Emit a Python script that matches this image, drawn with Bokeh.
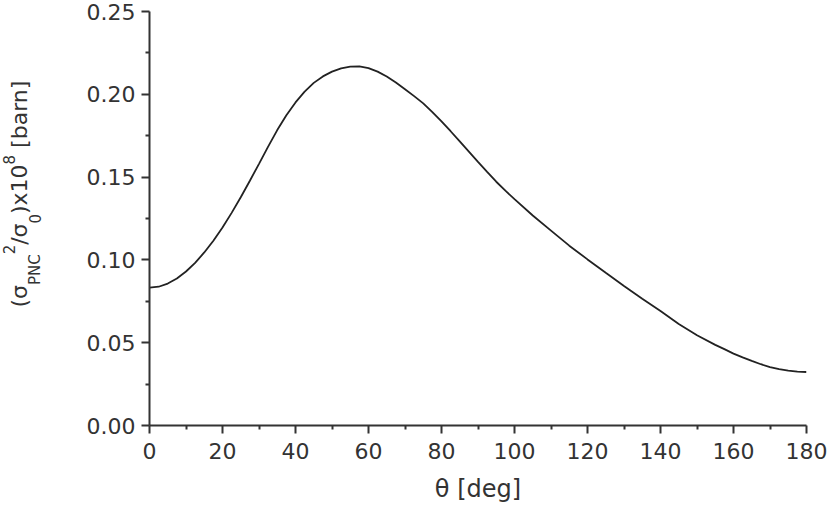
from bokeh.plotting import figure
from bokeh.models import FixedTicker, NumeralTickFormatter, Label, Range1d
from bokeh.layouts import row
from bokeh.embed import file_html
from bokeh.resources import INLINE

# ---- data ----
theta_deg = [0, 2.5, 5, 7.5, 10, 12.5, 15, 17.5, 20, 22.5, 25, 27.5, 30, 32.5, 35, 37.5,
             40, 42.5, 45, 47.5, 50, 52.5, 55, 57.5, 60, 62.5, 65, 67.5, 70, 72.5, 75,
             77.5, 80, 82.5, 85, 87.5, 90, 92.5, 95, 97.5, 100,
             105, 110, 115, 120, 125, 130, 135, 140, 145, 150,
             155, 157.5, 160, 162.5, 165, 167.5, 170, 172.5, 175, 177.5, 180]
sigma_ratio = [0.0832, 0.0838, 0.0857, 0.0888, 0.0930, 0.0982, 0.1045, 0.1116, 0.1196,
               0.1284, 0.1378, 0.1478, 0.1580, 0.1684, 0.1784, 0.1874, 0.1951, 0.2016,
               0.2069, 0.2108, 0.2137, 0.2157, 0.2167, 0.2168, 0.2158, 0.2137, 0.2107,
               0.2071, 0.2031, 0.1989, 0.1945,
               0.1892, 0.1836, 0.1777, 0.1716, 0.1654, 0.1592, 0.1531, 0.1472, 0.1418,
               0.1367,
               0.1268, 0.1177, 0.1086, 0.1003, 0.0922, 0.0843, 0.0766, 0.0692, 0.0613,
               0.0545,
               0.0487, 0.0461, 0.0434, 0.0411, 0.0390, 0.0370, 0.0353, 0.0340, 0.0331,
               0.0325, 0.0323]

x_ticks = [0, 20, 40, 60, 80, 100, 120, 140, 160, 180]
x_minor = [10, 30, 50, 70, 90, 110, 130, 150, 170]
y_ticks = [0.00, 0.05, 0.10, 0.15, 0.20, 0.25]
y_minor = [0.025, 0.075, 0.125, 0.175, 0.225]

x_title = "\u03b8 [deg]"
# y title pieces: (text, role) — drawn rotated, one after the other (bottom to top)
y_title_parts = [("(\u03c3", "main"), ("PNC", "sub"), ("2", "sup"), ("/\u03c3", "main"),
                 ("0", "sub"), (")x10", "main"), ("8", "sup"), ("[barn]", "main")]
# start (lower end) of each piece, px from the top of the page
y_title_pos = [307, 284.6, 253.8, 244.3, 223.0, 213.5, 163.9, 147.4]

TXT = "#333333"
FONT = "DejaVu Sans"
H = 507
W_LEFT = 50
FRAME_TOP, FRAME_BOTTOM = 11, 425   # main frame edges (page px); the row aligns frames

# ---- narrow strip holding the composed y-axis title ----
yt = figure(width=W_LEFT, height=H, output_backend="svg", toolbar_location=None,
            x_range=Range1d(0, W_LEFT), y_range=Range1d(FRAME_BOTTOM, FRAME_TOP),
            x_axis_type=None, y_axis_type=None, min_border=0)
yt.outline_line_color = None
yt.background_fill_color = "white"
yt.border_fill_color = "white"

base_x = {"main": 18.5, "sub": 34, "sup": 8}
size = {"main": "22px", "sub": "15px", "sup": "15px"}
for (txt, role), pos in zip(y_title_parts, y_title_pos):
    yt.add_layout(Label(x=base_x[role], y=pos, text=txt, angle=90, angle_units="deg",
                        text_font=FONT, text_font_size=size[role], text_color=TXT,
                        text_align="left", text_baseline="alphabetic"))

# ---- main chart ----
p = figure(width=830 - W_LEFT, height=H, output_backend="svg", toolbar_location=None,
           x_range=Range1d(0, 180), y_range=Range1d(0, 0.25),
           min_border_left=149 - W_LEFT, min_border_right=24, min_border_top=FRAME_TOP,
           min_border_bottom=H - FRAME_BOTTOM)

p.line(theta_deg, sigma_ratio, line_color="#222222", line_width=1.8)

p.xgrid.visible = False
p.ygrid.visible = False
p.outline_line_color = None
p.background_fill_color = "white"
p.border_fill_color = "white"

p.xaxis.ticker = FixedTicker(ticks=x_ticks, minor_ticks=x_minor)
p.yaxis.ticker = FixedTicker(ticks=y_ticks, minor_ticks=y_minor)
p.yaxis.formatter = NumeralTickFormatter(format="0.00")

for ax in (p.xaxis[0], p.yaxis[0]):
    ax.axis_line_width = 2
    ax.axis_line_color = TXT
    ax.major_tick_line_width = 2
    ax.minor_tick_line_width = 2
    ax.major_tick_line_color = TXT
    ax.minor_tick_line_color = TXT
    ax.major_tick_in = 0
    ax.major_tick_out = 8
    ax.minor_tick_in = 0
    ax.minor_tick_out = 4
    ax.major_label_text_font = FONT
    ax.major_label_text_font_size = "22px"
    ax.major_label_text_color = TXT
p.xaxis.major_label_standoff = 9
p.yaxis.major_label_standoff = 6

p.xaxis.axis_label = x_title
p.xaxis.axis_label_text_font = FONT
p.xaxis.axis_label_text_font_size = "24px"
p.xaxis.axis_label_text_font_style = "normal"
p.xaxis.axis_label_text_color = TXT
p.xaxis.axis_label_standoff = 13

layout = row(yt, p, spacing=0)
open("out.html", "w").write(file_html(layout, INLINE))
